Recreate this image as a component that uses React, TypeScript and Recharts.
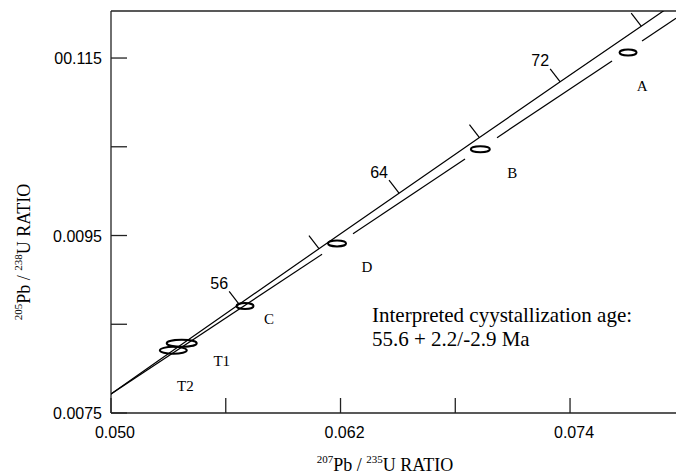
import { ScatterChart, Scatter, XAxis, YAxis, ReferenceLine } from 'recharts';

// concordia curve, ages in Ma
const concordiaAges = [48, 52, 56, 60, 64, 68, 72, 76, 80];
const concordiaX = [0.048408, 0.052546, 0.056701, 0.060872, 0.065059, 0.069263, 0.073484, 0.077721, 0.081975];
const concordiaY = [0.0074738, 0.0080991, 0.0087248, 0.009351, 0.0099774, 0.0106043, 0.0112316, 0.0118593, 0.0124873];
const tickedAges = [56, 60, 64, 68, 72, 76];
const labelledAges = [56, 64, 72];

// lower reference line, broken around the analyses
const lowerX = [0.05, 0.061033, 0.062654, 0.06851, 0.070183, 0.076196, 0.077765, 0.079542];
const lowerY = [0.007715, 0.009288, 0.009521, 0.010362, 0.010603, 0.011466, 0.011691, 0.011947];

// analyses (ellipse centres)
const samples = ['A', 'B', 'D', 'C', 'T1', 'T2'];
const sampleX = [0.077033, 0.06931, 0.061817, 0.057007, 0.053697, 0.053258];
const sampleY = [0.011561, 0.010472, 0.009411, 0.008705, 0.008285, 0.008206];

const xTicks = [0.05, 0.056, 0.062, 0.068, 0.074];
const xTickLabels = ['0.050', '', '0.062', '', '0.074'];
const yTicks = [0.0075, 0.0085, 0.0095, 0.0105, 0.0115];
const yTickLabels = ['0.0075', '', '0.0095', '', '00.115'];

const X_DOMAIN = [0.05, 0.07954];
const Y_DOMAIN = [0.0075, 0.01203];

const INK = '#000';
const AXIS = '#222';
const SANS = '"Liberation Sans", Arial, sans-serif';
const SERIF = '"Liberation Serif", "Times New Roman", serif';

// ellipse half-axes (px) and label offsets (px)
const ellipseSize: Record<string, [number, number]> = {
  A: [8.5, 3], B: [9.5, 3], D: [9, 3], C: [8.5, 3], T1: [15, 3.5], T2: [13.5, 3.5],
};
const labelOffset: Record<string, [number, number]> = {
  A: [14, 33], B: [32, 24], D: [30, 24], C: [24, 13], T1: [40, 18], T2: [12, 36],
};

const concordia = concordiaAges.map((age, i) => ({ age, x: concordiaX[i], y: concordiaY[i] }));
const ageTicks = concordia.filter((d) => tickedAges.includes(d.age));
const lowerSegments = [0, 2, 4, 6].map((i) => [
  { x: lowerX[i], y: lowerY[i] },
  { x: lowerX[i + 1], y: lowerY[i + 1] },
]);
const analyses = samples.map((name, i) => ({ name, x: sampleX[i], y: sampleY[i] }));

function XTick(props: any) {
  const { x, y, payload } = props;
  const label = xTickLabels[xTicks.indexOf(payload.value)];
  return (
    <g>
      <line x1={x} x2={x} y1={y} y2={y - 15} stroke={AXIS} strokeWidth={1.3} />
      {label && (
        <text x={x + 4} y={y + 25} textAnchor="middle" fontFamily={SANS} fontSize={16} fill={INK}>
          {label}
        </text>
      )}
    </g>
  );
}

function YTick(props: any) {
  const { x, y, payload } = props;
  const label = yTickLabels[yTicks.indexOf(payload.value)];
  return (
    <g>
      <line x1={x} x2={x + 16} y1={y} y2={y} stroke={AXIS} strokeWidth={1.3} />
      {label && (
        <text x={x - 9} y={y + 6} textAnchor="end" fontFamily={SANS} fontSize={16} fill={INK}>
          {label}
        </text>
      )}
    </g>
  );
}

function AgeTick(props: any) {
  const { cx, cy, payload } = props;
  return (
    <g>
      <line x1={cx} y1={cy} x2={cx - 10} y2={cy - 13} stroke={INK} strokeWidth={1.2} />
      {labelledAges.includes(payload.age) && (
        <text x={cx - 20} y={cy - 21} textAnchor="middle" dominantBaseline="central" fontFamily={SANS} fontSize={16} fill={INK}>
          {payload.age}
        </text>
      )}
    </g>
  );
}

function Analysis(props: any) {
  const { cx, cy, payload } = props;
  const [rx, ry] = ellipseSize[payload.name];
  const [dx, dy] = labelOffset[payload.name];
  return (
    <g>
      <ellipse cx={cx} cy={cy} rx={rx} ry={ry} fill="none" stroke="#000" strokeWidth={2} />
      <text x={cx + dx} y={cy + dy} textAnchor="middle" dominantBaseline="central" fontFamily={SERIF} fontSize={15} fill={INK}>
        {payload.name}
      </text>
    </g>
  );
}

function XTitle() {
  return (
    <text x={385} y={471} textAnchor="middle" fontFamily={SERIF} fontSize={18} fill={INK}>
      <tspan fontSize={11} dy={-8}>207</tspan>
      <tspan dy={8}>Pb / </tspan>
      <tspan fontSize={11} dy={-8}>235</tspan>
      <tspan dy={8}>U RATIO</tspan>
    </text>
  );
}

function YTitle() {
  return (
    <text
      x={0}
      y={0}
      transform="translate(30 252) rotate(-90)"
      textAnchor="middle"
      fontFamily={SERIF}
      fontSize={18}
      fill={INK}
    >
      <tspan fontSize={11} dy={-8}>205</tspan>
      <tspan dy={8}>Pb / </tspan>
      <tspan fontSize={11} dy={-8}>238</tspan>
      <tspan dy={8}>U RATIO</tspan>
    </text>
  );
}

const hidden = () => <g />;

export default function App() {
  return (
    <div style={{ position: 'fixed', left: 0, top: 0, width: 676, height: 474, overflow: 'hidden', background: '#fff' }}>
      <ScatterChart width={676} height={474} margin={{ top: 11, right: 0, bottom: 0, left: 0 }}>
        <XAxis
          type="number"
          dataKey="x"
          domain={X_DOMAIN}
          allowDataOverflow
          ticks={xTicks}
          interval={0}
          tickSize={0}
          tickMargin={0}
          tickLine={false}
          tick={XTick}
          axisLine={{ stroke: AXIS, strokeWidth: 1.3 }}
          height={61}
          label={<XTitle />}
        />
        <YAxis
          type="number"
          dataKey="y"
          domain={Y_DOMAIN}
          allowDataOverflow
          ticks={yTicks}
          interval={0}
          tickSize={0}
          tickMargin={0}
          tickLine={false}
          tick={YTick}
          axisLine={{ stroke: AXIS, strokeWidth: 1.3 }}
          width={111}
          label={<YTitle />}
        />
        <ReferenceLine y={Y_DOMAIN[1]} stroke={AXIS} strokeWidth={1.3} />
        <Scatter data={concordia} line={{ stroke: INK, strokeWidth: 1.2 }} shape={hidden} isAnimationActive={false} />
        {lowerSegments.map((seg, i) => (
          <Scatter key={i} data={seg} line={{ stroke: INK, strokeWidth: 1.2 }} shape={hidden} isAnimationActive={false} />
        ))}
        <Scatter data={ageTicks} shape={AgeTick} isAnimationActive={false} />
        <Scatter data={analyses} shape={Analysis} isAnimationActive={false} />
      </ScatterChart>
      <div
        style={{
          position: 'absolute',
          left: 372,
          top: 303,
          fontFamily: SERIF,
          fontSize: 21,
          lineHeight: '24px',
          color: INK,
          whiteSpace: 'nowrap',
        }}
      >
        <div>Interpreted cyystallization age:</div>
        <div>55.6 + 2.2/-2.9 Ma</div>
      </div>
    </div>
  );
}
